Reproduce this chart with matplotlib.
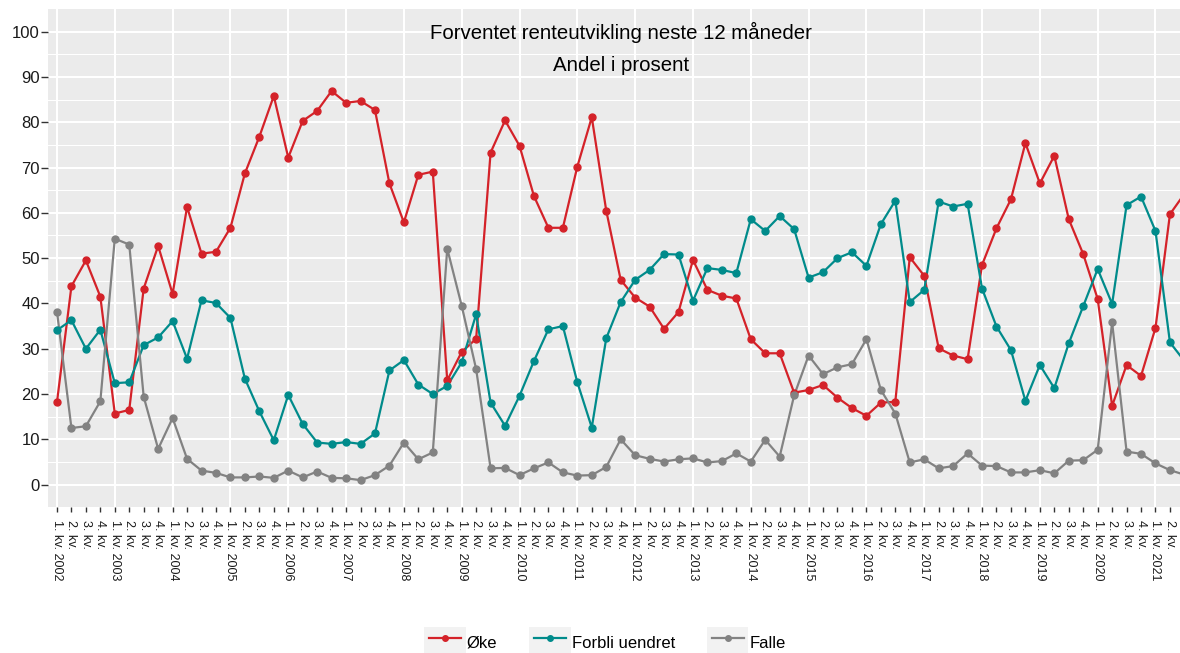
import matplotlib
matplotlib.use("Agg")
import matplotlib.pyplot as plt
from matplotlib.legend_handler import HandlerLine2D
from matplotlib.lines import Line2D
from matplotlib.patches import Rectangle

plt.rcParams['font.family'] = ['Liberation Sans', 'DejaVu Sans']

# Quarterly survey, 1. kv. 2002 - 3. kv. 2021 (share in percent)
first_year = 2002
n_quarters = 79

oke = [18.2, 43.8, 49.5, 41.5, 15.7, 16.5, 43.3, 52.7, 42.1, 61.3,
       51.0, 51.4, 56.7, 68.7, 76.8, 85.8, 72.2, 80.3, 82.5, 86.9,
       84.3, 84.7, 82.7, 66.5, 57.9, 68.4, 69.1, 23.0, 29.3, 32.2,
       73.3, 80.4, 74.8, 63.7, 56.7, 56.7, 70.2, 81.1, 60.5, 45.2,
       41.3, 39.3, 34.4, 38.1, 49.6, 43.0, 41.7, 41.1, 32.1, 29.0,
       29.0, 20.3, 20.9, 22.0, 19.2, 16.9, 15.2, 18.1, 18.3, 50.2,
       46.1, 30.1, 28.5, 27.7, 48.5, 56.6, 63.0, 75.4, 66.5, 72.6,
       58.6, 50.9, 41.0, 17.4, 26.4, 24.0, 34.6, 59.7, 64.2]

uendret = [34.1, 36.3, 30.0, 34.2, 22.4, 22.6, 30.8, 32.5, 36.1, 27.8,
           40.7, 40.1, 36.8, 23.4, 16.2, 9.8, 19.8, 13.4, 9.3, 9.0,
           9.4, 9.0, 11.3, 25.2, 27.5, 22.1, 20.0, 21.8, 27.0, 37.6,
           18.1, 13.0, 19.6, 27.3, 34.3, 35.0, 22.6, 12.6, 32.3, 40.3,
           45.2, 47.4, 50.9, 50.8, 40.6, 47.8, 47.4, 46.7, 58.6, 56.0,
           59.3, 56.4, 45.7, 46.9, 50.0, 51.3, 48.3, 57.5, 62.7, 40.3,
           43.0, 62.5, 61.4, 62.0, 43.3, 34.9, 29.7, 18.5, 26.4, 21.3,
           31.2, 39.4, 47.6, 39.9, 61.7, 63.6, 56.0, 31.4, 27.3]

falle = [38.2, 12.5, 12.9, 18.4, 54.3, 53.0, 19.4, 7.9, 14.7, 5.7,
         3.1, 2.6, 1.6, 1.6, 1.8, 1.5, 3.1, 1.6, 2.9, 1.5,
         1.4, 1.0, 2.1, 4.2, 9.3, 5.6, 7.1, 52.1, 39.5, 25.5,
         3.6, 3.7, 2.1, 3.6, 4.9, 2.7, 2.0, 2.1, 3.9, 10.0,
         6.5, 5.7, 5.1, 5.6, 5.8, 4.9, 5.2, 6.9, 5.1, 9.9,
         6.2, 19.7, 28.5, 24.4, 25.9, 26.6, 32.1, 20.9, 15.7, 4.9,
         5.6, 3.6, 4.1, 6.9, 4.2, 4.1, 2.7, 2.7, 3.2, 2.5,
         5.3, 5.4, 7.7, 35.8, 7.3, 6.8, 4.7, 3.2, 2.2]

series_names = ['Øke', 'Forbli uendret', 'Falle']
series_colors = ['#D42229', '#008B8B', '#828282']
title_lines = ['Forventet renteutvikling neste 12 måneder', 'Andel i prosent']

quarter_labels = []
for k in range(n_quarters):
    q = k % 4 + 1
    if q == 1:
        quarter_labels.append(f"{q}. kv. {first_year + k // 4}")
    else:
        quarter_labels.append(f"{q}. kv.")

W, H, DPI = 1180, 653, 100
fig = plt.figure(figsize=(W / DPI, H / DPI), dpi=DPI)
fig.patch.set_facecolor('white')

# panel runs slightly past the right edge of the canvas
x_lo, x_hi = -0.6, n_quarters - 1 + 0.6
left_px, first_px, step_px = 48.3, 57.3, 14.45
right_px = first_px + step_px * x_hi
top_px, bottom_px = 9.0, 507.3
ax = fig.add_axes([left_px / W, 1 - bottom_px / H,
                   (right_px - left_px) / W, (bottom_px - top_px) / H])
ax.set_facecolor('#EBEBEB')
for s in ax.spines.values():
    s.set_visible(False)

xs = list(range(n_quarters))
values = [oke, uendret, falle]
for vals, col in zip(values, series_colors):
    ax.plot(xs, vals, color=col, lw=1.6, zorder=3, solid_joinstyle='round')
for vals, col in zip(values, series_colors):
    ax.plot(xs, vals, ls='none', marker='o', ms=5, color=col, zorder=4)

ax.set_xlim(x_lo, x_hi)
ax.set_ylim(-5, 105)

# the last quarter's label would fall off the canvas edge
visible_labels = [lab if k < n_quarters - 1 else '' for k, lab in enumerate(quarter_labels)]
year_idx = [k for k in xs if k % 4 == 0]
other_idx = [k for k in xs if k % 4 != 0]
ax.set_xticks(year_idx, [visible_labels[k] for k in year_idx])
ax.set_xticks(other_idx, [visible_labels[k] for k in other_idx], minor=True)
ax.set_yticks(range(0, 101, 10))
ax.set_yticks(range(5, 100, 10), minor=True)

ax.grid(which='major', axis='both', color='white', lw=1.5, zorder=1)
ax.grid(which='minor', axis='y', color='white', lw=0.75, zorder=1)
ax.set_axisbelow(True)

for which in ('major', 'minor'):
    ax.tick_params(axis='x', which=which, length=3.6, width=1.0, color='#333333',
                   pad=5.5, labelsize=9, labelcolor='#1A1A1A', labelrotation=-90)
ax.tick_params(axis='y', which='major', length=5, width=1.0, color='#333333',
               pad=1, labelsize=12, labelcolor='#1A1A1A')
ax.tick_params(axis='y', which='minor', length=0)
for lab in ax.get_xticklabels(which='both'):
    lab.set_verticalalignment('top')
    lab.set_horizontalalignment('center')

ax.text(0.5, 0.9392, title_lines[0], transform=ax.transAxes, ha='center',
        va='baseline', fontsize=14.7, color='black', zorder=5)
ax.text(0.5, 0.8756, title_lines[1], transform=ax.transAxes, ha='center',
        va='baseline', fontsize=14.7, color='black', zorder=5)


class KeyWithBackground(HandlerLine2D):
    def create_artists(self, legend, orig_handle, xdescent, ydescent,
                       width, height, fontsize, trans):
        pad = 3.3
        bg = Rectangle((-xdescent - pad, -ydescent), width + 2 * pad, height,
                       facecolor='#F2F2F2', edgecolor='none', transform=trans)
        arts = super().create_artists(legend, orig_handle, xdescent, ydescent,
                                      width, height, fontsize, trans)
        return [bg] + list(arts)


handles = [Line2D([], [], color=c, lw=1.6, marker='o', ms=4) for c in series_colors]
fig.legend(handles, series_names, loc='center', bbox_to_anchor=(0.5148, 0.0158),
           ncol=3, frameon=False, fontsize=12, handlelength=1.92,
           handleheight=2.46, handletextpad=0.35, columnspacing=2.2,
           borderpad=0, numpoints=1,
           handler_map={Line2D: KeyWithBackground(numpoints=1)})

fig.savefig('out.png', dpi=DPI)
